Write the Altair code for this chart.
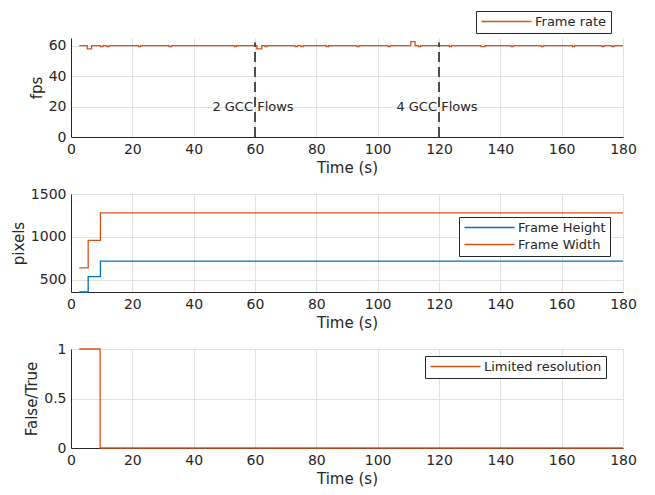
import altair as alt
import pandas as pd

# ---- data ----
fps_time = [2.7, 5.3, 6.7, 9.6, 10.4, 11.7, 12.4, 22.0, 22.7, 32.0, 32.8, 53.4, 54.0,
            60.6, 62.2, 63.3, 63.9, 73.1, 73.8, 75.0, 75.7, 83.3, 84.0, 93.2, 93.9,
            103.4, 104.1, 110.8, 112.2, 113.3, 114.0, 123.4, 124.1, 133.7, 135.0,
            143.5, 144.2, 153.4, 154.1, 163.5, 164.2, 173.1, 173.8, 176.4, 177.1, 180.0]
fps_value = [60, 57.9, 60, 59.3, 60, 59.3, 60, 59.3, 60, 59.3, 60, 59.3, 60,
             57.9, 60, 59.3, 60, 59.3, 60, 59.3, 60, 59.3, 60, 59.3, 60,
             59.3, 60, 62.6, 60, 59.3, 60, 59.3, 60, 59.3, 60,
             59.3, 60, 59.3, 60, 59.3, 60, 59.3, 60, 59.3, 60, 60]

res_time = [2.7, 5.6, 9.6, 180.0]
frame_height = [360, 540, 720, 720]
frame_width = [640, 960, 1280, 1280]

lim_time = [2.7, 9.5, 180.0]
lim_value = [1, 0, 0]

event_time = [60, 120]
event_label = ["2 GCC Flows", "4 GCC Flows"]
event_low = [0, 0]
event_high = [62, 62]
event_text_y = [20, 20]

x_ticks = [0, 20, 40, 60, 80, 100, 120, 140, 160, 180]
fps_ticks = [0, 20, 40, 60]

ORANGE = "#D95319"
BLUE = "#0072BD"
INK = "#262626"
GRID = "#E2E2E2"
FONT = "DejaVu Sans"
W = 552

fps_df = pd.DataFrame({"t": fps_time, "v": fps_value, "s": "Frame rate"})
res_df = pd.concat([
    pd.DataFrame({"t": res_time, "v": frame_height, "s": "Frame Height"}),
    pd.DataFrame({"t": res_time, "v": frame_width, "s": "Frame Width"}),
])
lim_df = pd.DataFrame({"t": lim_time, "v": lim_value, "s": "Limited resolution"})
ev_df = pd.DataFrame({"t": event_time, "label": event_label, "lo": event_low,
                      "hi": event_high, "ty": event_text_y})


def xenc(field="t"):
    return alt.X(f"{field}:Q", scale=alt.Scale(domain=[0, 180], nice=False, zero=False),
                 axis=alt.Axis(values=x_ticks, title="Time (s)"))


def yfps(field):
    return alt.Y(f"{field}:Q", scale=alt.Scale(domain=[0, 65], nice=False),
                 axis=alt.Axis(values=fps_ticks, title="fps"))


def legend(x, y):
    return alt.Legend(orient="none", legendX=x, legendY=y, title=None)


line1 = alt.Chart(fps_df).mark_line(interpolate="step-after", strokeWidth=1.3).encode(
    x=xenc(),
    y=yfps("v"),
    color=alt.Color("s:N", scale=alt.Scale(domain=["Frame rate"], range=[ORANGE]),
                    legend=legend(405, -27)),
)
rules = alt.Chart(ev_df).mark_rule(strokeDash=[10, 5], strokeWidth=2, color="#4D4D4D").encode(
    x=xenc(), y=yfps("lo"), y2="hi:Q")
texts = alt.Chart(ev_df).mark_text(font=FONT, fontSize=13, color=INK, align="center",
                                   baseline="middle", dx=-2).encode(
    x=xenc(), y=yfps("ty"), text="label:N")
p1 = alt.layer(line1, rules, texts).properties(width=W, height=99)

p2 = alt.Chart(res_df).mark_line(interpolate="step-after", strokeWidth=1.3).encode(
    x=xenc(),
    y=alt.Y("v:Q", scale=alt.Scale(domain=[360, 1500], nice=False, zero=False),
            axis=alt.Axis(values=[500, 1000, 1500], format="d", title="pixels")),
    color=alt.Color("s:N", scale=alt.Scale(domain=["Frame Height", "Frame Width"],
                                           range=[BLUE, ORANGE]),
                    legend=legend(388, 23)),
).properties(width=W, height=98)

p3 = alt.Chart(lim_df).mark_line(interpolate="step-after", strokeWidth=1.3).encode(
    x=xenc(),
    y=alt.Y("v:Q", scale=alt.Scale(domain=[0, 1], nice=False),
            axis=alt.Axis(values=[0, 0.5, 1], format="~g", title="False/True")),
    color=alt.Color("s:N", scale=alt.Scale(domain=["Limited resolution"], range=[ORANGE]),
                    legend=legend(354, 7)),
).properties(width=W, height=99)

chart = alt.vconcat(p1, p2, p3, spacing=57, bounds="flush").resolve_scale(
    color="independent", x="independent", y="independent"
).properties(
    padding={"left": 11, "top": 10, "right": 5, "bottom": 5},
    background="white",
).configure_view(strokeWidth=0).configure_axis(
    labelFont=FONT, labelFontSize=14, labelColor=INK, labelPadding=5,
    labelFlush=False, labelOverlap=False,
    titleFont=FONT, titleFontSize=15, titleFontWeight="normal", titleColor=INK,
    titlePadding=4, domainColor=INK, domainWidth=1, gridColor=GRID, gridWidth=1,
    ticks=False,
).configure_legend(
    symbolType="M-5,0H5", symbolSize=100, symbolStrokeWidth=1.5, symbolOffset=20,
    labelFont=FONT, labelFontSize=13, labelColor=INK, labelOffset=22,
    strokeColor=INK, fillColor="white", padding=4, rowPadding=3,
)

chart.save("out.html", embed_options={"renderer": "svg", "actions": False})
